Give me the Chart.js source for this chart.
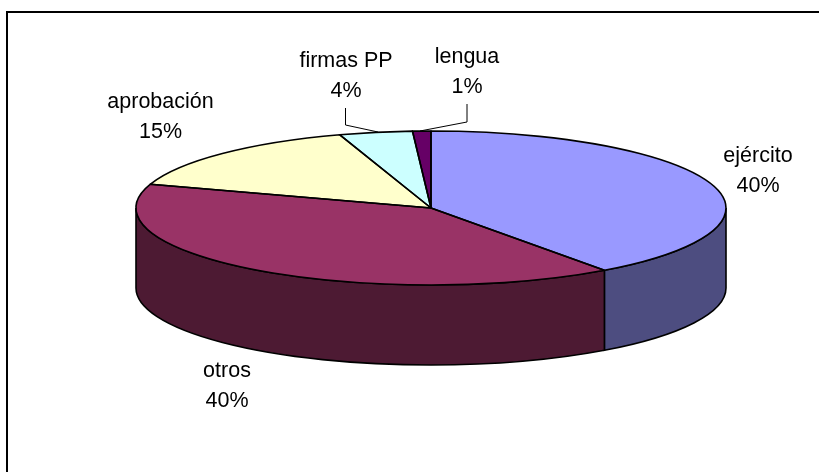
<!DOCTYPE html>
<html>
<head>
<meta charset="utf-8">
<style>html,body{margin:0;padding:0;background:#fff}canvas{display:block}</style>
<script src="https://cdn.jsdelivr.net/npm/chart.js@4"></script>
</head>
<body>
<canvas id="c" width="819" height="472"></canvas>
<script>
const categories = ['ejército', 'otros', 'aprobación', 'firmas PP', 'lengua'];
const values = [40, 40, 15, 4, 1];
const topColors = ['#9999ff', '#993366', '#ffffcc', '#ccffff', '#660066'];
const sideColors = ['#4d4d80', '#4d1a33', '#808066', '#668080', '#330033'];

const RX = 295, RY = 77, DEPTH = 80;
const labelCenters = [[758, 177], [227, 391.5], [160.5, 122.5], [346, 81.5], [467, 77.5]];
const leaders = [null, null, null,
  [[345.5, 108], [345.5, 125], [378, 132]],
  [[467, 104], [467, 122], [420, 131]]];

function applyEllipse(ctx, a) {
  ctx.translate(a.x, a.y);
  ctx.scale(RX / a.outerRadius, RY / a.outerRadius);
  ctx.translate(-a.x, -a.y);
}
function strokeScaled(ctx, a, build) {
  ctx.save();
  applyEllipse(ctx, a);
  ctx.beginPath();
  build();
  ctx.restore();
  ctx.lineWidth = 1.6;
  ctx.strokeStyle = '#000';
  ctx.lineJoin = 'round';
  ctx.stroke();
}

const pie3d = {
  id: 'pie3d',
  beforeDatasetsDraw(chart) {
    const ctx = chart.ctx;
    const arcs = chart.getDatasetMeta(0).data;
    // frame: top and left edges
    ctx.save();
    ctx.fillStyle = '#000';
    ctx.fillRect(6, 11, 813, 2);
    ctx.fillRect(6, 11, 2, 461);
    // extruded wall
    arcs.forEach((a, i) => {
      const s = Math.max(a.startAngle, 0), e = Math.min(a.endAngle, Math.PI);
      if (e <= s) return;
      const ex = a.x + RX * Math.cos(e), ey = a.y + RY * Math.sin(e);
      ctx.beginPath();
      ctx.ellipse(a.x, a.y, RX, RY, 0, s, e);
      ctx.lineTo(ex, ey + DEPTH);
      ctx.ellipse(a.x, a.y + DEPTH, RX, RY, 0, e, s, true);
      ctx.closePath();
      ctx.fillStyle = sideColors[i];
      ctx.fill();
      ctx.lineWidth = 1.6;
      ctx.strokeStyle = '#000';
      ctx.stroke();
    });
    ctx.restore();
    // squash the library's own circle into the top ellipse
    ctx.save();
    applyEllipse(ctx, arcs[0]);
  },
  afterDatasetsDraw(chart) {
    const ctx = chart.ctx;
    ctx.restore();
    const arcs = chart.getDatasetMeta(0).data;
    ctx.save();
    arcs.forEach(a => {
      strokeScaled(ctx, a, () => {
        ctx.moveTo(a.x, a.y);
        ctx.arc(a.x, a.y, a.outerRadius, a.startAngle, a.endAngle);
        ctx.closePath();
      });
    });
    // leader lines
    ctx.strokeStyle = '#000';
    ctx.lineWidth = 1;
    leaders.forEach(l => {
      if (!l) return;
      ctx.beginPath();
      l.forEach((p, k) => k ? ctx.lineTo(p[0], p[1]) : ctx.moveTo(p[0], p[1]));
      ctx.stroke();
    });
    // labels
    ctx.fillStyle = '#000';
    ctx.font = '21.5px "Liberation Sans", Arial, sans-serif';
    ctx.textAlign = 'center';
    ctx.textBaseline = 'alphabetic';
    const total = values.reduce((p, v) => p + v, 0);
    categories.forEach((c, i) => {
      const [x, y] = labelCenters[i];
      ctx.fillText(c, x, y - 15);
      ctx.fillText(Math.round(values[i] / total * 100) + '%', x, y + 15);
    });
    ctx.restore();
  }
};

new Chart(document.getElementById('c'), {
  type: 'pie',
  data: {
    labels: categories,
    datasets: [{ data: values, backgroundColor: topColors, borderWidth: 0, clip: false }]
  },
  options: {
    responsive: false,
    animation: false,
    layout: { padding: { left: 43, right: 0, top: 0, bottom: 56 } },
    plugins: { legend: { display: false }, tooltip: { enabled: false }, title: { display: false } }
  },
  plugins: [pie3d]
});
</script>
</body>
</html>
